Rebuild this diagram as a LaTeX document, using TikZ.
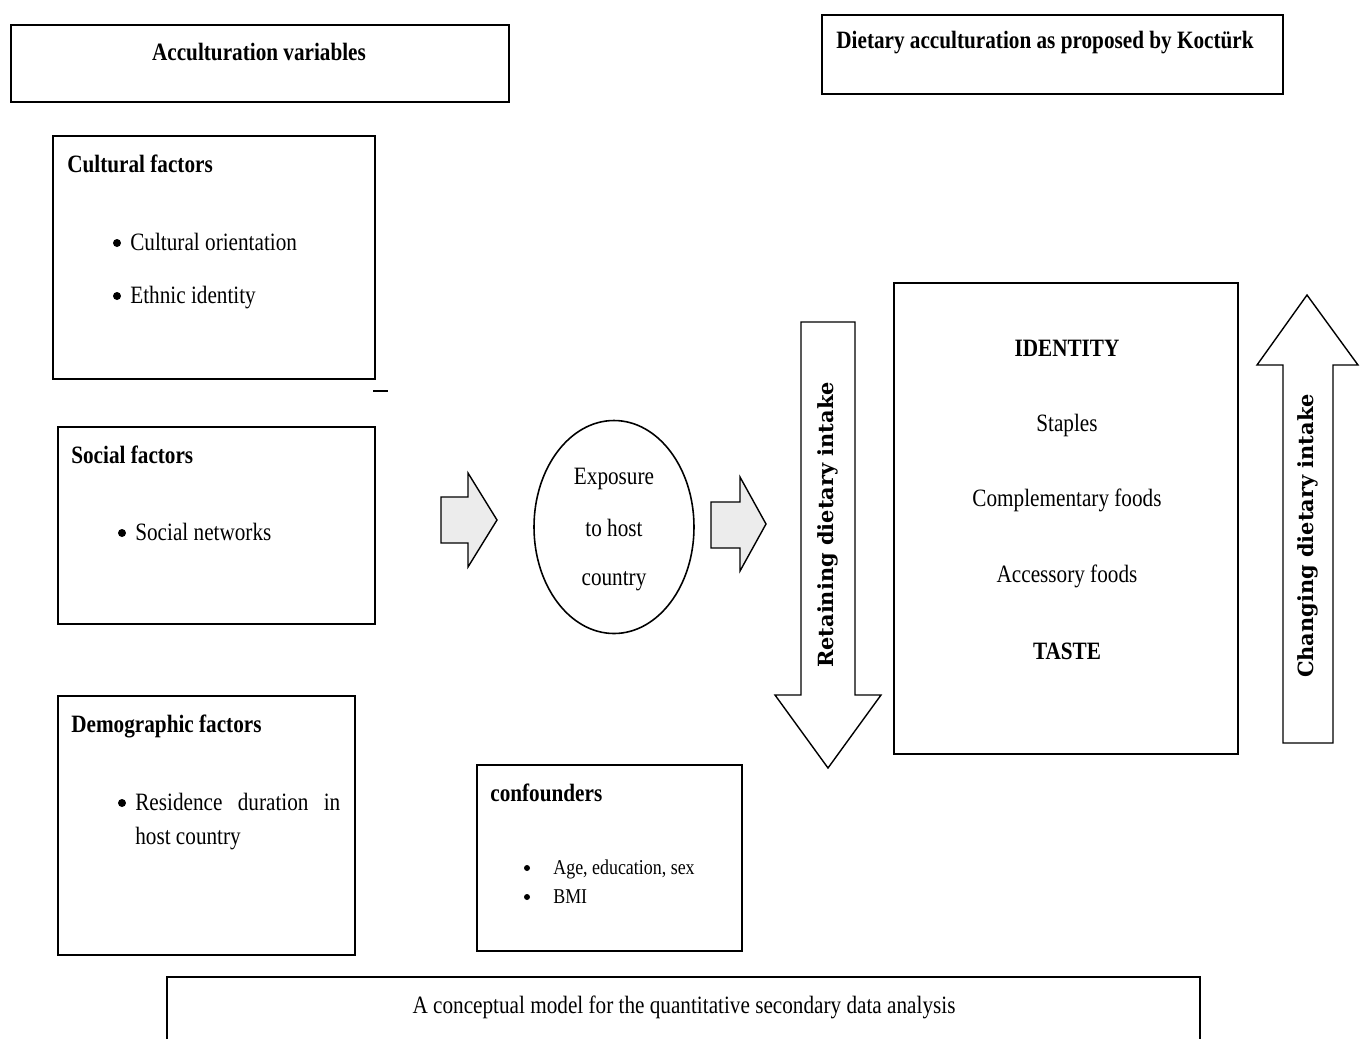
\documentclass[tikz,border=0pt]{standalone}
\usepackage{fontspec}
\setmainfont{Liberation Serif}[FakeStretch=0.85]
\newfontfamily\arrowfont{DejaVu Serif}
\usetikzlibrary{shapes.geometric}

\begin{document}
\begin{tikzpicture}[
    x=0.02cm, y=-0.02cm,
    box/.style 2 args={draw, line width=1.1pt, anchor=north west, inner sep=0,
      minimum width=#1*0.02cm, minimum height=#2*0.02cm},
    title/.style={font=\fontsize{14.2pt}{17pt}\selectfont\bfseries, inner sep=0},
    txt/.style={font=\fontsize{14.2pt}{17pt}\selectfont, inner sep=0},
    small/.style={font=\fontsize{12pt}{14pt}\selectfont, inner sep=0},
    dot/.style={circle, fill=black, inner sep=0, minimum size=#1*0.02cm},
    dot/.default=8,
    fatarrow/.style={draw, line width=0.8pt, fill=gray!15},
    bigarrow/.style={draw, line width=0.8pt, fill=white},
    vlabel/.style={font=\arrowfont\bfseries\fontsize{11.9pt}{14pt}\selectfont, rotate=90, inner sep=0}
]
  \useasboundingbox (0,0) rectangle (1370,1039);

  % Headings
  \node[box={498}{77}] (acc) at (10,24) {};
  \node[title, anchor=base] (accT) at (259,60) {Acculturation variables};
  \node[box={461}{79}] (koc) at (821,14) {};
  \node[title, anchor=base] (kocT) at (1045,48) {Dietary acculturation as proposed by Koctürk};

  % Cultural factors
  \node[box={322}{243}] (cult) at (52,135) {};
  \node[title, anchor=base west] (cultT) at (67,172) {Cultural factors};
  \node[dot] (b1) at (117,243) {};
  \node[txt, anchor=base west] (c1) at (130,250) {Cultural orientation};
  \node[dot] (b2) at (117,296) {};
  \node[txt, anchor=base west] (c2) at (130,303) {Ethnic identity};
  \draw[line width=0.6pt] (373,391) -- (388,391);

  % Social factors
  \node[box={317}{197}] (soc) at (57,426) {};
  \node[title, anchor=base west] (socT) at (71,463) {Social factors};
  \node[dot] (b3) at (122,533) {};
  \node[txt, anchor=base west] (s1) at (135,540) {Social networks};

  % Demographic factors
  \node[box={297}{259}] (dem) at (57,695) {};
  \node[title, anchor=base west] (demT) at (71,732) {Demographic factors};
  \node[dot] (b4) at (122,803) {};
  \node[txt, anchor=base west] (d1) at (135,810) {\makebox[4.1cm][s]{Residence duration in}};
  \node[txt, anchor=base west] (d2) at (135,844) {host country};

  % Exposure
  \draw[fatarrow] (441,497) -- (468,497) -- (468,473) -- (497,520) -- (468,567) -- (468,543) -- (441,543) -- cycle;
  \node[draw, ellipse, line width=0.9pt, minimum width=160*0.02cm, minimum height=213*0.02cm] (exp) at (614,527) {};
  \node[txt] (e1) at (614,479) {Exposure};
  \node[txt] (e2) at (614,528) {to host};
  \node[txt] (e3) at (614,581) {country};
  \draw[fatarrow] (711,502) -- (740,502) -- (740,477) -- (766,524) -- (740,571) -- (740,548) -- (711,548) -- cycle;

  % Retaining / changing
  \draw[bigarrow] (801,322) -- (855,322) -- (855,695) -- (881,695) -- (828,768) -- (775,695) -- (801,695) -- cycle;
  \node[vlabel] (ret) at (828,525) {Retaining dietary intake};
  \draw[bigarrow] (1283,743) -- (1333,743) -- (1333,365) -- (1358,365) -- (1307,295) -- (1257,365) -- (1283,365) -- cycle;
  \node[vlabel] (chg) at (1308,536) {Changing dietary intake};

  % Food groups
  \node[box={344}{471}] (food) at (893,282) {};
  \node[title, anchor=base] (f1) at (1067,356) {IDENTITY};
  \node[txt, anchor=base] (f2) at (1067,431) {Staples};
  \node[txt, anchor=base] (f3) at (1067,506) {Complementary foods};
  \node[txt, anchor=base] (f4) at (1067,582) {Accessory foods};
  \node[title, anchor=base] (f5) at (1067,659) {TASTE};

  % Confounders
  \node[box={265}{186}] (conf) at (476,764) {};
  \node[title, anchor=base west] (confT) at (490,801) {confounders};
  \node[dot=6] (b5) at (527,868) {};
  \node[small, anchor=base west] (k1) at (553,874) {Age, education, sex};
  \node[dot=6] (b6) at (527,897) {};
  \node[small, anchor=base west] (k2) at (553,903) {BMI};

  % Caption
  \draw[line width=1.1pt] (167,1039) |- (1200,977) -- (1200,1039);
  \node[txt, anchor=base] (cap) at (684,1013) {A conceptual model for the quantitative secondary data analysis};
\end{tikzpicture}
\end{document}
